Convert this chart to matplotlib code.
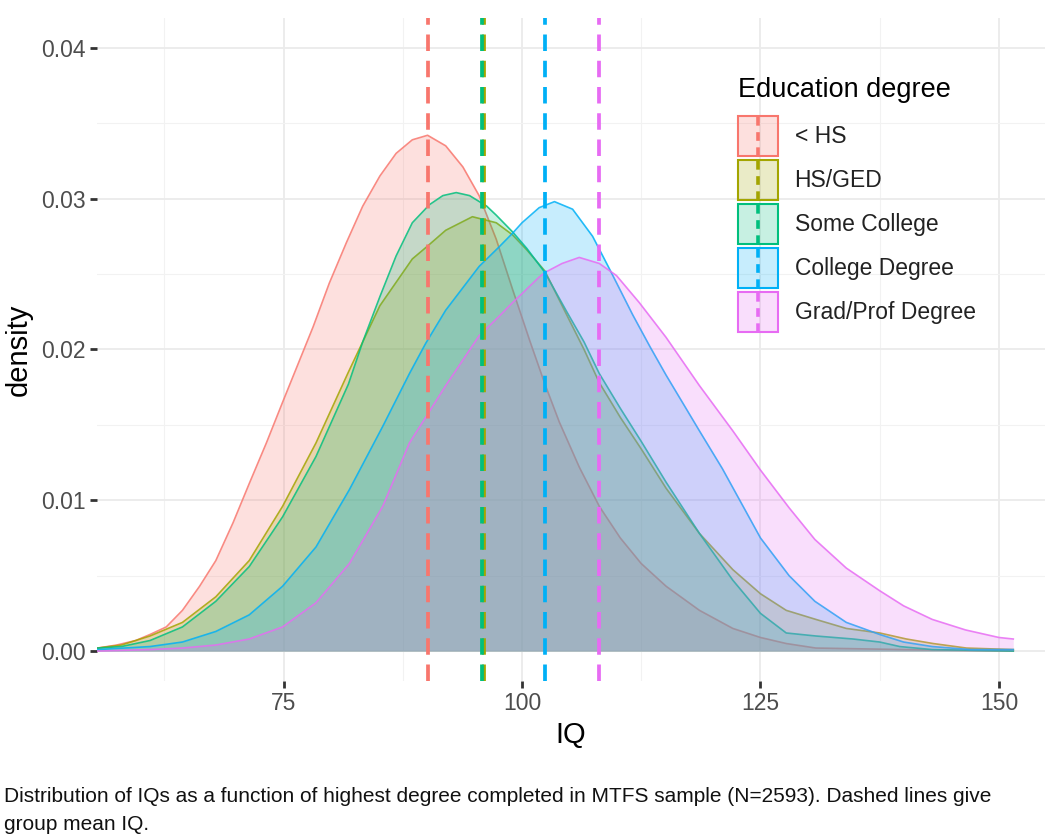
import matplotlib
matplotlib.use("Agg")
import matplotlib.pyplot as plt
from matplotlib.legend_handler import HandlerBase
from matplotlib.patches import Patch, Rectangle
from matplotlib.lines import Line2D

plt.rcParams['font.family'] = ['Liberation Sans', 'DejaVu Sans']

# -----------------------
# DATA
# -----------------------
groups = ['< HS', 'HS/GED', 'Some College', 'College Degree', 'Grad/Prof Degree']
colors = ['#F8766D', '#A3A500', '#00BF7D', '#00B0F6', '#E76BF3']
group_means = [90.1, 96.0, 95.85, 102.4, 108.1]

iq_hs_less = [55.5, 57.5, 59.5, 61, 62.7, 64.4, 66.2, 67.9, 69.7, 71.4, 73.2, 74.9, 76.5,
              78.1, 79.8, 81.6, 83.3, 85.1, 86.8, 88.5, 90.1, 92.0, 93.8, 95.5, 97.3, 99.0,
              100.8, 102.4, 103.9, 106, 108.1, 110.3, 112.5, 115.1, 118.6, 122.1, 125,
              127.7, 130.8, 140, 151.5]
dens_hs_less = [0.0002, 0.0004, 0.0007, 0.0011, 0.0016, 0.0027, 0.0043, 0.0060, 0.0085,
                0.0111, 0.0138, 0.0165, 0.0190, 0.0215, 0.0244, 0.0271, 0.0295, 0.0315,
                0.0330, 0.0339, 0.0342, 0.0335, 0.0321, 0.0302, 0.0273, 0.0240, 0.0206,
                0.0177, 0.0152, 0.0122, 0.0096, 0.0075, 0.0058, 0.0043, 0.0027, 0.0015,
                0.0009, 0.0005, 0.0002, 0.0001, 0.0000]

iq_hs_ged = [55.5, 58, 61, 64.4, 67.9, 71.4, 74.9, 78.4, 81.8, 85.1, 88.5, 90, 92.0, 94.8,
             97.3, 99.0, 100.5, 102.4, 104.6, 106.5, 108.1, 110.3, 112.5, 115.1, 118.6,
             122.1, 125, 127.7, 130.8, 134, 137.5, 140.3, 143.1, 146.6, 151.5]
dens_hs_ged = [0.0002, 0.0004, 0.0010, 0.0019, 0.0036, 0.0060, 0.0096, 0.0138, 0.0185,
               0.0229, 0.0260, 0.0268, 0.0279, 0.0288, 0.0284, 0.0276, 0.0266, 0.0252,
               0.0224, 0.0200, 0.0178, 0.0155, 0.0134, 0.0108, 0.0078, 0.0054, 0.0038,
               0.0027, 0.0021, 0.0015, 0.0012, 0.0008, 0.0005, 0.0002, 0.0001]

iq_some_college = [55.5, 58, 61, 64.4, 67.9, 71.4, 74.9, 78.4, 81.8, 83.3, 85.1, 86.8,
                   88.5, 90.3, 91.7, 93.1, 94.5, 96.3, 97.3, 99.0, 100.5, 102.4, 104.6,
                   106.5, 108.1, 110.3, 112.5, 115.1, 118.6, 122.1, 125, 127.7, 130.8,
                   134.7, 137.5, 139.6, 143, 151.5]
dens_some_college = [0.0002, 0.0003, 0.0007, 0.0016, 0.0033, 0.0056, 0.0089, 0.0129,
                     0.0177, 0.0205, 0.0235, 0.0262, 0.0284, 0.0296, 0.0302, 0.0304,
                     0.0302, 0.0295, 0.0289, 0.0278, 0.0267, 0.0251, 0.0226, 0.0205,
                     0.0184, 0.0161, 0.0139, 0.0112, 0.0078, 0.0047, 0.0025, 0.0012,
                     0.0010, 0.0008, 0.0006, 0.0003, 0.0001, 0.0000]

iq_college = [55.5, 61, 64.4, 67.9, 71.4, 74.9, 78.4, 81.9, 85.4, 88.2, 89.9, 92.0, 95.5,
              97.6, 99.0, 100, 101.8, 103.4, 105.3, 107.4, 109.2, 111.6, 113.4, 115.1,
              116.9, 118.6, 121, 123, 125, 128, 130.7, 134, 137.5, 140, 143, 147, 151.5]
dens_college = [0.0001, 0.0003, 0.0006, 0.0013, 0.0024, 0.0043, 0.0069, 0.0107, 0.0149,
                0.0184, 0.0204, 0.0226, 0.0255, 0.0268, 0.0277, 0.0284, 0.0294, 0.0298,
                0.0293, 0.0275, 0.0253, 0.0223, 0.0202, 0.0183, 0.0164, 0.0146, 0.0121,
                0.0098, 0.0075, 0.0050, 0.0033, 0.0019, 0.0011, 0.0006, 0.0003, 0.0001,
                0.0001]

iq_grad = [55.5, 61, 64.4, 67.9, 71.4, 74.9, 78.4, 81.9, 85.4, 88.2, 89.2, 92.0, 95.5, 97.6,
           99.0, 100, 101.8, 102.4, 104.2, 106.0, 108.1, 109.9, 112.3, 115.1, 118.6, 122.1,
           125, 128, 130.7, 134, 137.5, 140, 143, 146.5, 150, 151.5]
dens_grad = [0.0000, 0.0001, 0.0002, 0.0004, 0.0008, 0.0016, 0.0032, 0.0058, 0.0096, 0.0138,
             0.0148, 0.0176, 0.0209, 0.0222, 0.0231, 0.0237, 0.0248, 0.0251, 0.0257, 0.0261,
             0.0257, 0.0249, 0.0231, 0.0208, 0.0176, 0.0146, 0.0120, 0.0095, 0.0074, 0.0055,
             0.0040, 0.0030, 0.0021, 0.0014, 0.0009, 0.0008]

curves = [(iq_hs_less, dens_hs_less), (iq_hs_ged, dens_hs_ged),
          (iq_some_college, dens_some_college), (iq_college, dens_college),
          (iq_grad, dens_grad)]

x_ticks = [75, 100, 125, 150]
y_ticks = [0.00, 0.01, 0.02, 0.03, 0.04]
y_tick_labels = ['0.00', '0.01', '0.02', '0.03', '0.04']

caption = ("Distribution of IQs as a function of highest degree completed in MTFS sample "
           "(N=2593). Dashed lines give\ngroup mean IQ.")


# -----------------------
# LEGEND KEY: filled square with vertical dashed line
# -----------------------
class KeyHandler(HandlerBase):
    def create_artists(self, legend, orig_handle, xdescent, ydescent,
                       width, height, fontsize, trans):
        col = orig_handle.get_edgecolor()
        size = height
        x0 = -xdescent + (width - size) / 2
        y0 = -ydescent
        box = Rectangle((x0, y0), size, size, facecolor=orig_handle.get_facecolor(),
                        edgecolor=col, lw=1.5, transform=trans)
        dash = Line2D([x0 + size / 2, x0 + size / 2], [y0, y0 + size], color=col,
                      lw=2.6, linestyle=(0, (2.4, 1.8)), transform=trans)
        return [box, dash]


# -----------------------
# PLOT
# -----------------------
fig = plt.figure(figsize=(10.5, 8.4), dpi=100)
ax = fig.add_axes([0.092, 0.189, 0.903, 0.79])

for (xs, ys), col in zip(curves, colors):
    ax.fill_between(xs, ys, 0, color=col, alpha=0.22, lw=0, zorder=2)
    ax.plot(xs, ys, color=col, lw=1.2, alpha=0.85, zorder=2)

for m, col in zip(group_means, colors):
    ax.axvline(m, color=col, lw=2.7, linestyle=(0, (4.4, 2.6)), zorder=3)

ax.set_xlim(55.4, 154.8)
ax.set_ylim(-0.002, 0.042)
ax.set_xticks(x_ticks)
ax.set_xticks([62.5, 87.5, 112.5, 137.5], minor=True)
ax.set_yticks(y_ticks)
ax.set_yticklabels(y_tick_labels)
ax.set_yticks([0.005, 0.015, 0.025, 0.035], minor=True)

ax.grid(which='major', color='#EBEBEB', lw=1.3, zorder=0)
ax.grid(which='minor', color='#F2F2F2', lw=0.8, zorder=0)
ax.set_axisbelow(True)
for s in ax.spines.values():
    s.set_visible(False)

ax.tick_params(which='major', length=5, width=2, color='#333333',
               labelsize=16.5, labelcolor='#4D4D4D', pad=3)
ax.tick_params(which='minor', length=0)

ax.set_xlabel('IQ', fontsize=21, labelpad=4)
ax.set_ylabel('density', fontsize=21, labelpad=6)

handles = [Patch(facecolor=(*matplotlib.colors.to_rgb(c), 0.22), edgecolor=c) for c in colors]
leg = ax.legend(handles, groups, handler_map={Patch: KeyHandler()},
                loc='upper left', bbox_to_anchor=(0.676, 0.910), frameon=False,
                title='Education degree', title_fontsize=19.5, fontsize=16.5,
                handlelength=1.75, handleheight=2.315, labelspacing=0.17,
                handletextpad=0.74, borderpad=0, borderaxespad=0, alignment='left')
leg._legend_box.sep = 9.3  # a bit more room between title and keys
for t in leg.get_texts():
    t.set_color('#222222')

fig.text(0.004, 0.063, caption, fontsize=15, ha='left', va='top',
         linespacing=1.6, color='#111111')

fig.savefig('out.png', dpi=100)
